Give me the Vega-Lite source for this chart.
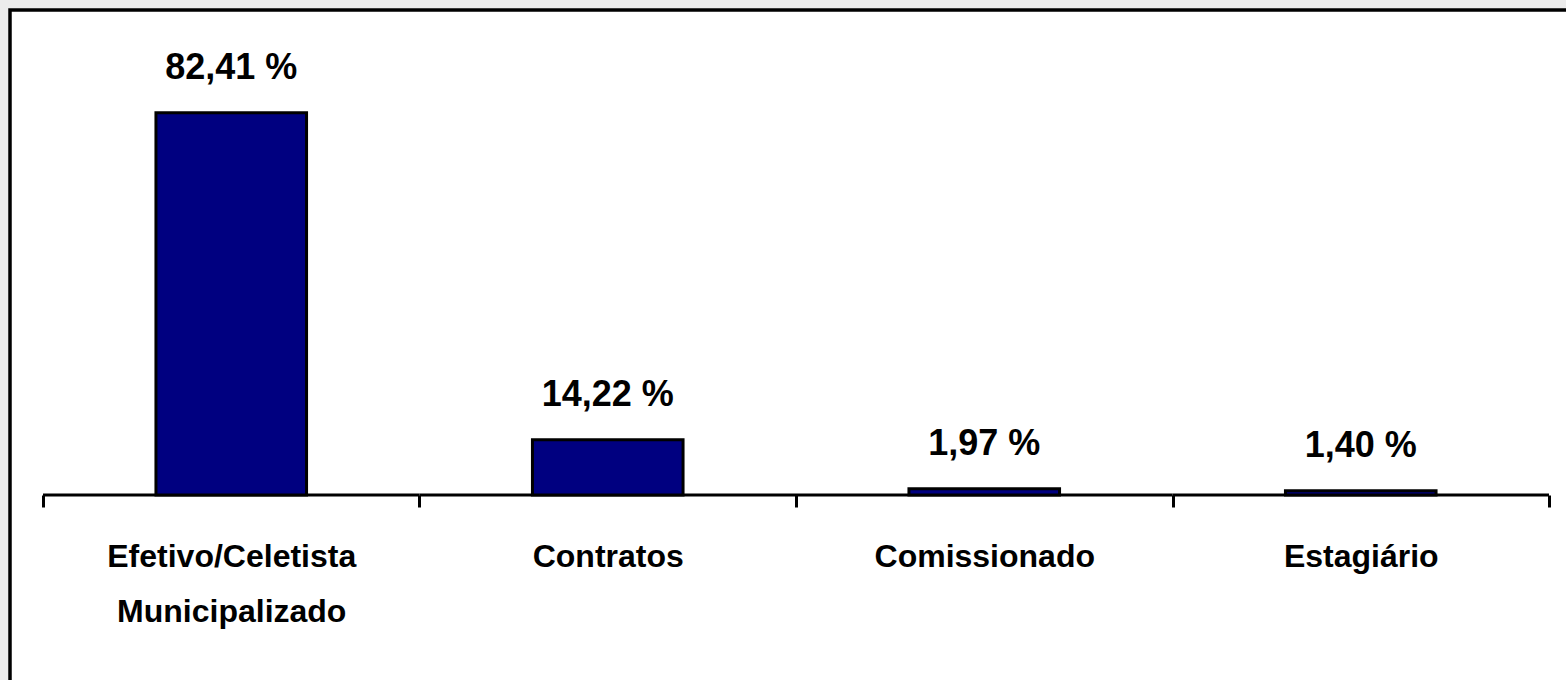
{
  "$schema": "https://vega.github.io/schema/vega-lite/v6.json",
  "width": 1556,
  "height": 670,
  "autosize": {"type": "none"},
  "padding": {"left": 10, "top": 10, "right": 0, "bottom": 0},
  "background": "#ececec",
  "config": {
    "font": "Liberation Sans",
    "view": {"fill": "white", "stroke": "black", "strokeWidth": 3.5, "strokeDash": [1556, 2226, 700]}
  },
  "data": {
    "values": [
      {"categoria": "Efetivo/Celetista Municipalizado", "percentual": 82.41, "rotulo": "82,41 %"},
      {"categoria": "Contratos", "percentual": 14.22, "rotulo": "14,22 %"},
      {"categoria": "Comissionado", "percentual": 1.97, "rotulo": "1,97 %"},
      {"categoria": "Estagiário", "percentual": 1.40, "rotulo": "1,40 %"}
    ]
  },
  "encoding": {
    "x": {"field": "categoria", "type": "nominal", "sort": null,
          "scale": {"paddingInner": 0, "paddingOuter": 0.0664, "align": 0.66},
          "axis": {"title": null, "orient": "bottom", "offset": -185, "domain": false, "tickBand": "extent",
                   "tickSize": 12, "tickWidth": 3, "tickColor": "black", "labelAngle": 0, "labelLimit": 0,
                   "labelOverlap": false, "labelFontSize": 32, "labelFontWeight": "bold", "labelColor": "black",
                   "labelPadding": 34, "labelLineHeight": 55,
                   "labelExpr": "datum.value == 'Efetivo/Celetista Municipalizado' ? ['Efetivo/Celetista', 'Municipalizado'] : datum.label"}}
  },
  "layer": [
    {
      "mark": {"type": "bar", "fill": "black", "stroke": "black", "strokeWidth": 3, "width": {"band": 1}},
      "encoding": {
        "y": {"datum": 0, "type": "quantitative",
              "scale": {"type": "pow", "exponent": 1.1, "domain": [-42.6, 102.3], "nice": false, "zero": false},
              "axis": null},
        "y2": {"datum": 0}
      }
    },
    {
      "mark": {"type": "bar", "color": "#000080", "stroke": "black", "strokeWidth": 3, "width": {"band": 0.4}},
      "encoding": {
        "y": {"field": "percentual", "type": "quantitative"}
      }
    },
    {
      "mark": {"type": "text", "fontSize": 36, "fontWeight": "bold", "color": "black", "baseline": "alphabetic", "dy": -34},
      "encoding": {
        "y": {"field": "percentual", "type": "quantitative"},
        "text": {"field": "rotulo"}
      }
    }
  ]
}
